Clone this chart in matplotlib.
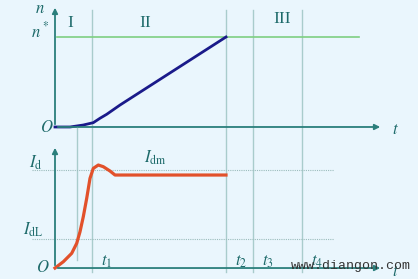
import numpy as np
import matplotlib.pyplot as plt

plt.rcParams['mathtext.fontset'] = 'stix'
plt.rcParams['font.family'] = ['Liberation Serif', 'DejaVu Serif']

# time marks (arbitrary units)
t_marks = {'t1': 3.7, 't2': 17.1, 't3': 19.8, 't4': 24.7}
t_a = 2.2          # extra short guide line in stage I

# speed n over time (n* = 1)
t_n = [0, 1.5, 2.83, 3.83, 4.5, 5.17, 6.5, 17.1]
n_vals = [0, 0, 0.022, 0.048, 0.097, 0.141, 0.244, 1.0]

# armature current over time (Id = 1)
t_i = [0, 0.83, 1.67, 2.17, 2.5, 2.83, 3.17, 3.5, 3.83, 4.33, 4.83, 5.5, 6.0, 17.1]
i_vals = [0, 0.064, 0.15, 0.252, 0.37, 0.524, 0.711, 0.915, 1.017, 1.051,
          1.034, 0.99, 0.949, 0.949]
i_dl = 0.30

bg = '#eaf6fd'
axc = '#2b7f7c'
txt = '#1d6a6a'
vline_c = '#a9cccc'

fig = plt.figure(figsize=(4.18, 2.79), dpi=100, facecolor=bg)
xlim = (-5.5, 36.3)

ax_n = fig.add_axes([0, 0, 1, 1])
ax_n.set_xlim(*xlim)
ax_n.set_ylim(-1.689, 1.411)
ax_n.axis('off')

ax_i = fig.add_axes([0, 0, 1, 1])
ax_i.set_xlim(*xlim)
ax_i.set_ylim(-0.112, 2.735)
ax_i.axis('off')
ax_i.patch.set_alpha(0)

# stage guide lines
for tv in t_marks.values():
    ax_n.axvline(tv, ymin=0.025, ymax=0.964, color=vline_c, lw=1)
ax_i.plot([t_a, t_a], [0.08, 1.43], color=vline_c, lw=1)

# reference levels
ax_n.plot([0.2, 30.4], [1, 1], color='#7fcf82', lw=1.2)
ax_i.plot([-2.3, 27.9], [1, 1], color='#9bbcbc', lw=0.8, ls=(0, (1, 1)))
ax_i.plot([-2.3, 27.9], [i_dl, i_dl], color='#9bbcbc', lw=0.8, ls=(0, (1, 1)))

# axes with arrows
arr = dict(arrowstyle='-|>', color=axc, lw=1.3, mutation_scale=8)
ax_n.annotate('', xy=(32.8, 0), xytext=(0, 0), arrowprops=arr)
ax_n.annotate('', xy=(0, 1.356), xytext=(0, 0), arrowprops=arr)
ax_i.annotate('', xy=(32.8, 0), xytext=(0, 0), arrowprops=arr)
ax_i.annotate('', xy=(0, 1.255), xytext=(0, 0), arrowprops=arr)

# curves
ax_n.plot(t_n, n_vals, color='#1a1a8a', lw=2, solid_joinstyle='round')
ax_i.plot(t_i, i_vals, color='#e2512b', lw=2.3, solid_joinstyle='round')

# labels
ax_n.text(-1.5, 1.31, '$n$', color=txt, fontsize=12, ha='center', va='center')
ax_n.text(-1.5, 1.06, '$n^*$', color=txt, fontsize=12, ha='center', va='center')
ax_n.text(-0.8, -0.01, '$O$', color=txt, fontsize=12, ha='center', va='center')
ax_n.text(34.0, -0.03, '$t$', color=txt, fontsize=12, ha='center', va='center')
ax_n.text(1.5, 1.16, 'I', color=txt, fontsize=12.5, ha='center', va='center')
ax_n.text(9.0, 1.16, 'II', color=txt, fontsize=12.5, ha='center', va='center')
ax_n.text(22.7, 1.2, 'III', color=txt, fontsize=12.5, ha='center', va='center')

ax_i.text(-1.9, 1.07, r'$I_\mathrm{d}$', color=txt, fontsize=12, ha='center', va='center')
ax_i.text(-2.2, 0.39, r'$I_\mathrm{dL}$', color=txt, fontsize=12, ha='center', va='center')
ax_i.text(10.0, 1.12, r'$I_\mathrm{dm}$', color=txt, fontsize=12, ha='center', va='center')
ax_i.text(-1.2, 0.0, '$O$', color=txt, fontsize=12, ha='center', va='center')
ax_i.text(34.0, -0.04, '$t$', color=txt, fontsize=12, ha='center', va='center')
for name, tv in t_marks.items():
    ax_i.text(tv + 1.5, 0.06, '$t_%s$' % name[1], color=txt, fontsize=12,
              ha='center', va='center')

fig.text(0.84, 0.045, 'www.diangon.com', family='Liberation Mono', fontsize=9.5,
         color='#333333', ha='center', va='center')

fig.savefig('out.png', dpi=100, facecolor=bg)
